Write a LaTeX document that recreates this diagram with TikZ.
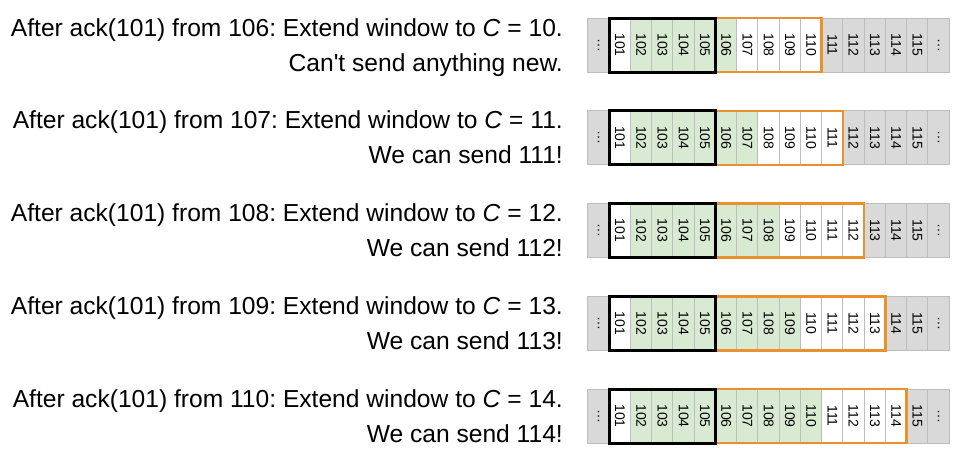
\documentclass[tikz,border=0pt]{standalone}
\usepackage{fontspec}
\setmainfont{Liberation Sans}
\usetikzlibrary{positioning}
\definecolor{cellgray}{HTML}{D9D9D9}
\definecolor{cellline}{HTML}{BDBDBD}
\definecolor{ackgreen}{HTML}{D9EAD3}
\definecolor{winorange}{HTML}{E8912D}
\tikzset{
  cell/.style={draw=cellline,line width=1pt,minimum width=21.25pt,minimum height=54pt,
    inner sep=0pt,outer sep=0pt,font=\fontsize{14}{14}\selectfont},
  outside/.style={cell,fill=cellgray},
  acked/.style={cell,fill=ackgreen},
  unacked/.style={cell,fill=white},
  ackbox/.style={draw=black,line width=3pt},
  winbox/.style={draw=winorange,line width=2.5pt},
  caption/.style={anchor=base east,inner sep=0pt,font=\fontsize{24.6}{35}\selectfont}
}
\frenchspacing

\begin{document}
\begin{tikzpicture}[x=1pt,y=1pt,node distance=0pt]
\useasboundingbox (0,0) rectangle (961,-456);
\foreach \k/\second in {0/{Can\textquotesingle t send anything new.},1/{We can send 111!},
    2/{We can send 112!},3/{We can send 113!},4/{We can send 114!}}{
  \pgfmathsetmacro{\yc}{-45-92.75*\k}
  \pgfmathtruncatemacro{\from}{106+\k}
  \pgfmathtruncatemacro{\cwnd}{10+\k}
  \pgfmathtruncatemacro{\lastack}{106+\k}
  \pgfmathtruncatemacro{\lastwin}{110+\k}
  \node[caption] (t\k) at (563,\yc+9)
    {After ack(101) from \from: Extend window to \textit{C} = \cwnd.};
  \node[caption] (s\k) at ([yshift=-35pt]t\k.base east) {\second};
  % sequence strip
  \node[outside] (c\k-100) at (598.6,\yc) {\rotatebox{-90}{\ldots}};
  \foreach \n in {101,...,116}{
    \pgfmathtruncatemacro{\prev}{\n-1}
    \ifnum\n=101 \def\st{unacked}\else
      \ifnum\n>\lastwin \def\st{outside}\else
        \ifnum\n>\lastack \def\st{unacked}\else \def\st{acked}\fi\fi\fi
    \ifnum\n=116
      \node[outside,right=of c\k-\prev] (c\k-\n) {\rotatebox{-90}{\ldots}};
    \else
      \node[\st,right=of c\k-\prev] (c\k-\n) {\rotatebox{-90}{\n}};
    \fi
  }
  \draw[winbox] (c\k-106.north west) rectangle (c\k-\lastwin.south east);
  \draw[ackbox] (c\k-101.north west) rectangle (c\k-105.south east);
}
\end{tikzpicture}
\end{document}
